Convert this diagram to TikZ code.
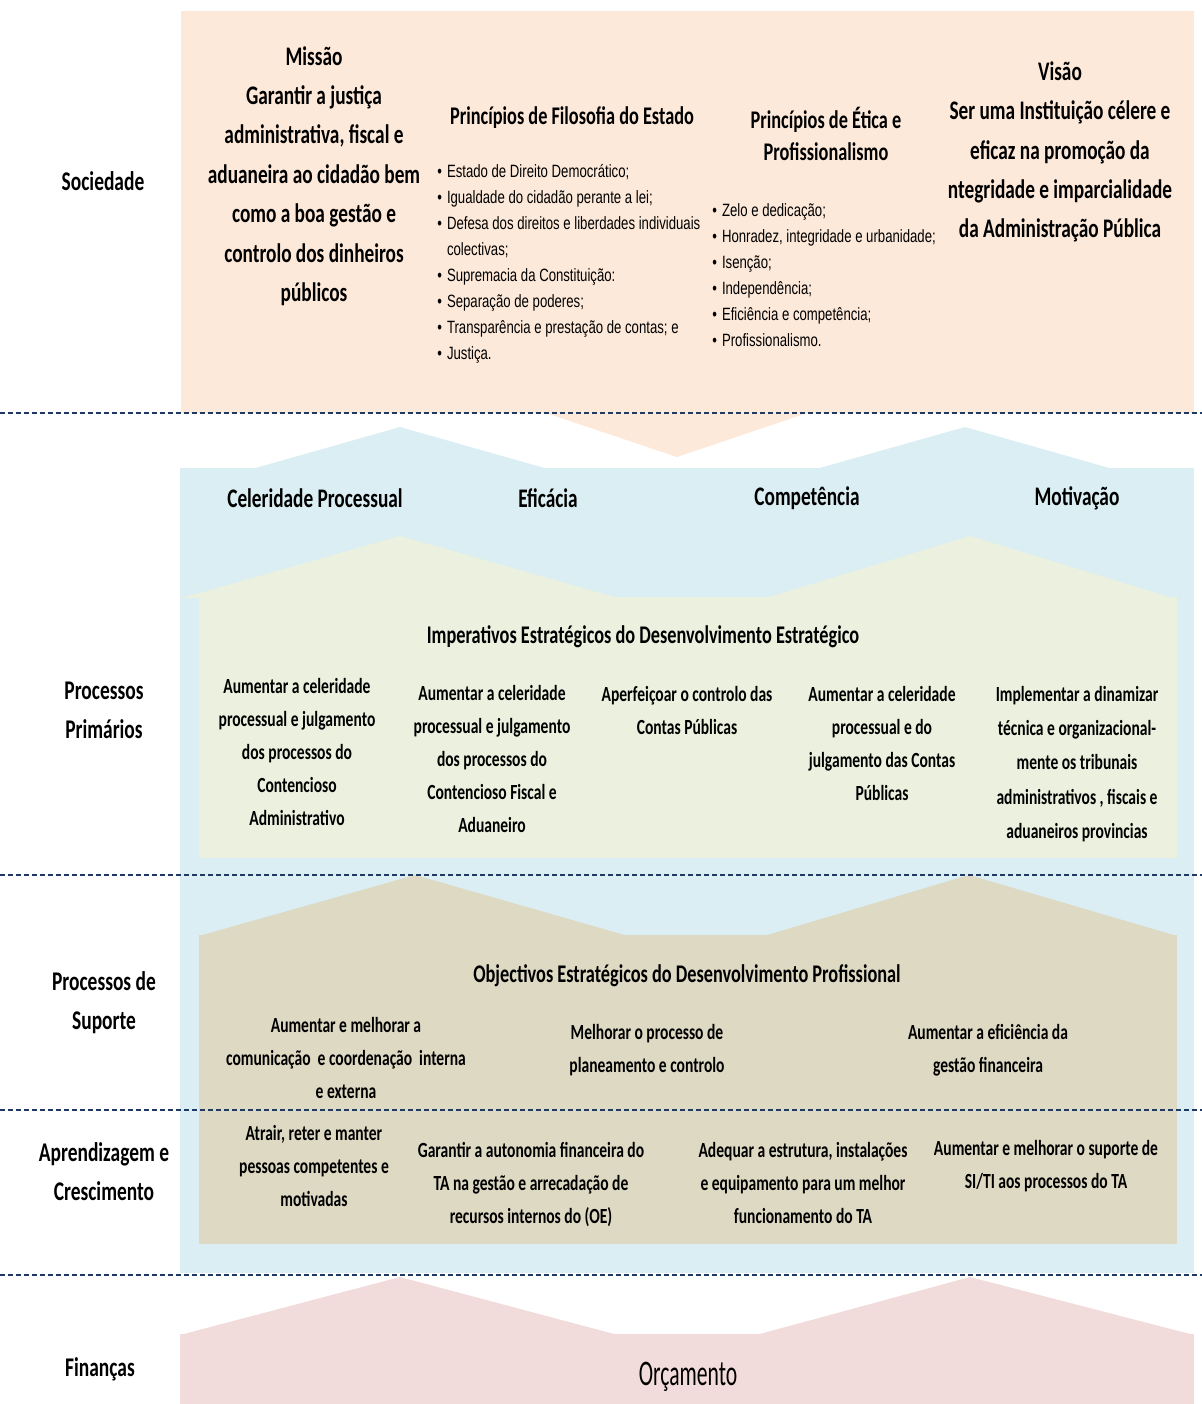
\documentclass[tikz,border=0pt]{standalone}
\usepackage{fontspec}
\setmainfont{Carlito}[FakeStretch=0.72]
\newfontfamily\bulfont{Liberation Sans}[FakeStretch=0.74]
\newfontfamily\orcfont{Carlito}[FakeStretch=0.6]

\definecolor{peach}{HTML}{FDE9D9}
\definecolor{skyblue}{HTML}{DAEEF3}
\definecolor{cream}{HTML}{EBF1DE}
\definecolor{tan}{HTML}{DDD9C3}
\definecolor{rose}{HTML}{F2DCDB}
\definecolor{navy}{HTML}{1F3864}

\begin{document}
\begin{tikzpicture}[x=0.5pt,y=-0.5pt,inner sep=0pt,
	lbl/.style={font=\bfseries\fontsize{13.5}{19.5}\selectfont,align=center},
	big/.style={font=\bfseries\fontsize{13.4}{19.7}\selectfont,align=center},
	head/.style={font=\bfseries\fontsize{12.7}{16}\selectfont,align=center},
	item/.style={font=\bfseries\fontsize{10.8}{16.5}\selectfont,align=center},
	bul/.style={font=\bulfont\fontsize{8.9}{13}\selectfont,anchor=west},
	sep/.style={navy,line width=1pt,dash pattern=on 2.5pt off 1.5pt}]
\useasboundingbox (0,0) rectangle (1202,1404);

% bands
\fill[peach] (181,11) rectangle (1194,413);
\fill[peach] (522,405) -- (831,405) -- (677,457) -- cycle;
\fill[skyblue] (180,468) rectangle (1194,1273);
\fill[skyblue] (252,469) -- (400,427) -- (548,469) -- cycle;
\fill[skyblue] (816,469) -- (965,427) -- (1113,469) -- cycle;
\fill[cream] (199,597) rectangle (1177,858);
\fill[cream] (182,598) -- (400,536) -- (618,598) -- cycle;
\fill[cream] (766,598) -- (970,536) -- (1173,598) -- cycle;
\fill[tan] (199,935) rectangle (1177,1244);
\fill[tan] (199,936) -- (415,875) -- (628,936) -- cycle;
\fill[tan] (764,936) -- (969,875) -- (1177,936) -- cycle;
\fill[rose] (180,1334) rectangle (1194,1404);
\fill[rose] (180,1335) -- (400,1277) -- (618,1335) -- cycle;
\fill[rose] (756,1335) -- (970,1277) -- (1194,1335) -- cycle;

\foreach \y in {413,875,1110,1275}
	\draw[sep] (0,\y) -- (1202,\y);

% perspectives
\path (103,181) node[lbl] (soc) {Sociedade}
		(104,710) node[lbl] (pp) {Processos\\Primários}
		(104,1003) node[lbl] (ps) {Processos de\\Suporte}
		(104,1172) node[lbl] (ac) {Aprendizagem e\\Crescimento}
		(100,1369) node[lbl] (fin) {Finanças}
		;

% sociedade
\path (314,176) node[big] (mis) {Missão\\Garantir a justiça\\administrativa, fiscal e\\aduaneira ao cidadão bem\\como a boa gestão e\\controlo dos dinheiros\\públicos}
		(1060,152) node[big] (vis) {Visão\\Ser uma Instituição célere e\\eficaz na promoção da\\ntegridade e imparcialidade\\da Administração Pública}
		(572,118) node[head] (pfe) {Princípios de Filosofia do Estado}
		(826,134) node[head] (pep) {Princípios de Ética e\\Profissionalismo}
		(437,263) node[bul] (lfe) {\begin{tabular}{@{}l@{\hspace{2.5pt}}l@{}}
			• & Estado de Direito Democrático;\\
			• & Igualdade do cidadão perante a lei;\\
			• & Defesa dos direitos e liberdades individuais\\
			  & colectivas;\\
			• & Supremacia da Constituição:\\
			• & Separação de poderes;\\
			• & Transparência e prestação de contas; e\\
			• & Justiça.
			\end{tabular}}
		(712,276) node[bul] (lep) {\begin{tabular}{@{}l@{\hspace{2.5pt}}l@{}}
			• & Zelo e dedicação;\\
			• & Honradez, integridade e urbanidade;\\
			• & Isenção;\\
			• & Independência;\\
			• & Eficiência e competência;\\
			• & Profissionalismo.
			\end{tabular}}
		;

% valores
\path (315,498) node[big] (cel) {Celeridade Processual}
		(548,498) node[big] (efi) {Eficácia}
		(807,498) node[big] (com) {Competência}
		(1077,498) node[big] (mot) {Motivação}
		;

% processos primarios
\path (643,637) node[head] (imp) {Imperativos Estratégicos do Desenvolvimento Estratégico}
		(297,752) node[item] (i1) {Aumentar a celeridade\\processual e julgamento\\dos processos do\\Contencioso\\Administrativo}
		(492,759) node[item] (i2) {Aumentar a celeridade\\processual e julgamento\\dos processos do\\Contencioso Fiscal e\\Aduaneiro}
		(687,710) node[item] (i3) {Aperfeiçoar o controlo das\\Contas Públicas}
		(882,743) node[item] (i4) {Aumentar a celeridade\\processual e do\\julgamento das Contas\\Públicas}
		(1077,764) node[item,font=\bfseries\fontsize{10.8}{17.2}\selectfont] (i5) {Implementar a dinamizar\\técnica e organizacional-\\mente os tribunais\\administrativos , fiscais e\\aduaneiros provincias}
		;

% processos de suporte
\path (687,976) node[head] (obj) {Objectivos Estratégicos do Desenvolvimento Profissional}
		(346,1058) node[item] (o1) {Aumentar e melhorar a\\comunicação \ e coordenação \ interna\\e externa}
		(647,1050) node[item] (o2) {Melhorar o processo de\\planeamento e controlo}
		(988,1050) node[item] (o3) {Aumentar a eficiência da\\gestão financeira}
		;

% aprendizagem e crescimento
\path (314,1166) node[item] (a1) {Atrair, reter e manter\\pessoas competentes e\\motivadas}
		(531,1185) node[item] (a2) {Garantir a autonomia financeira do\\TA na gestão e arrecadação de\\recursos internos do (OE)}
		(803,1183) node[item] (a3) {Adequar a estrutura, instalações\\e equipamento para um melhor\\funcionamento do TA}
		(1046,1166) node[item] (a4) {Aumentar e melhorar o suporte de\\SI/TI aos processos do TA}
		;

% financas
\path (688,1377) node[font=\orcfont\fontsize{18}{20}\selectfont] (orc) {Orçamento};
\end{tikzpicture}
\end{document}
